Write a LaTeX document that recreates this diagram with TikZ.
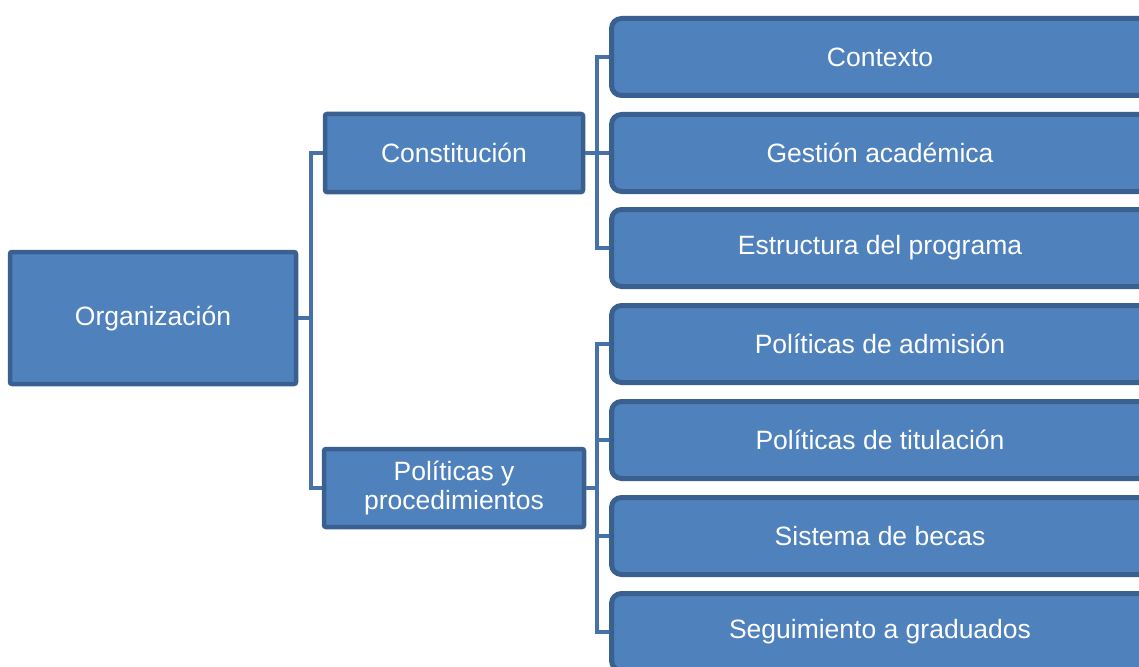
\documentclass[tikz,border=0pt]{standalone}
\usepackage{fontspec}
\setmainfont{Liberation Sans}
\definecolor{boxfill}{HTML}{4F81BD}
\definecolor{boxline}{HTML}{3A6090}
\definecolor{connline}{HTML}{4672A8}
\begin{document}
\begin{tikzpicture}[x=1pt,y=-1pt,
  base/.style={draw=boxline, fill=boxfill, line width=4.5pt, text=white, align=center,
    font=\fontsize{26.5}{29}\selectfont, inner sep=0pt},
  leftbox/.style={base, rounded corners=2pt},
  rightbox/.style={base, line width=5pt, rounded corners=10pt, minimum width=537pt, minimum height=77pt},
  conn/.style={draw=connline, line width=4pt, line join=miter}]
\useasboundingbox (0,0) rectangle (1139,666);
\clip (0,0) rectangle (1139,666);
\node[leftbox, minimum width=286pt, minimum height=132pt] (org) at (153,318) {Organización};
\node[leftbox, minimum width=258pt, minimum height=78pt] (const) at (454,153) {Constitución};
\node[leftbox, minimum width=260pt, minimum height=78pt] (pol) at (454,488) {Políticas y\\procedimientos};
\node[rightbox] (ctx) at (880,57) {Contexto};
\node[rightbox] (ges) at (880,153) {Gestión académica};
\node[rightbox] (est) at (880,248) {Estructura del programa};
\node[rightbox] (adm) at (880,344) {Políticas de admisión};
\node[rightbox] (tit) at (880,440) {Políticas de titulación};
\node[rightbox] (bec) at (880,536) {Sistema de becas};
\node[rightbox] (seg) at (880,632) {Seguimiento a graduados};
\coordinate (j1) at (311,318);
\coordinate (j2) at (597,153);
\coordinate (j3) at (597,488);
\draw[conn] (org.east) -- (j1);
\draw[conn] (const.west) -| (j1) |- (pol.west);
\draw[conn] (const.east) -- (j2);
\draw[conn] (ctx.west) -| (j2) |- (est.west);
\draw[conn] (j2) -- (ges.west);
\draw[conn] (pol.east) -- (j3);
\draw[conn] (adm.west) -| (j3) |- (seg.west);
\draw[conn] (j3|-tit.west) -- (tit.west);
\draw[conn] (j3|-bec.west) -- (bec.west);
\end{tikzpicture}
\end{document}
